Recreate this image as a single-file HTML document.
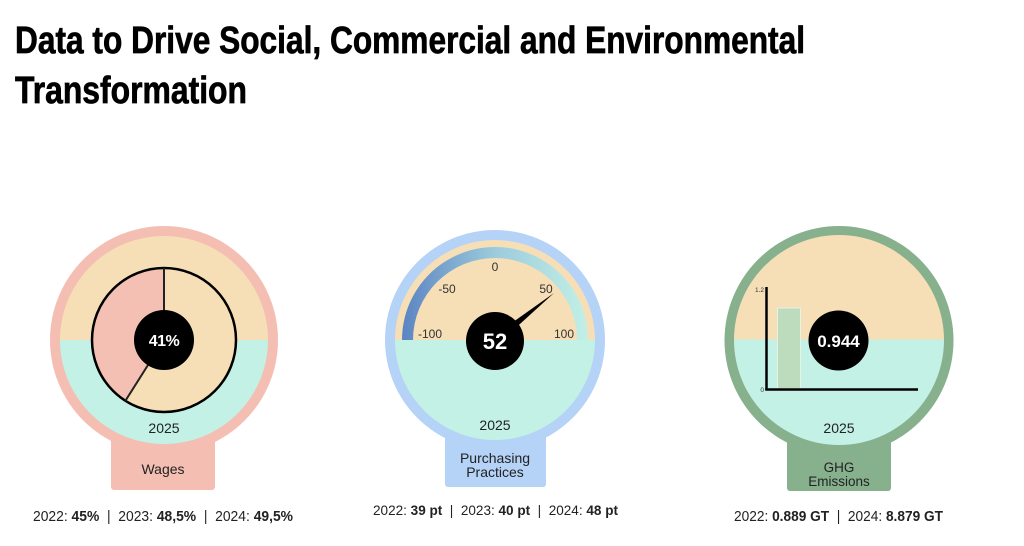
<!DOCTYPE html>
<html>
<head>
<meta charset="utf-8">
<style>
html,body{margin:0;padding:0;background:#fff;}
svg{display:block;}
text{font-family:"Liberation Sans",sans-serif;}
</style>
</head>
<body>
<svg width="1024" height="546" viewBox="0 0 1024 546" xmlns="http://www.w3.org/2000/svg">
<defs>
  <linearGradient id="g1" x1="402" y1="0" x2="588" y2="0" gradientUnits="userSpaceOnUse">
    <stop offset="0" stop-color="#5b84c2"/>
    <stop offset="0.5" stop-color="#9ccbdc"/>
    <stop offset="1" stop-color="#c2f0e6"/>
  </linearGradient>
  <clipPath id="c1"><circle cx="164" cy="340" r="104"/></clipPath>
  <clipPath id="c2"><circle cx="495" cy="340" r="100"/></clipPath>
  <clipPath id="c3"><circle cx="839" cy="340" r="105"/></clipPath>
</defs>

<!-- Title -->
<text x="15" y="53" font-size="38" font-weight="bold" fill="#000" stroke="#000" stroke-width="0.7" textLength="790" lengthAdjust="spacingAndGlyphs">Data to Drive Social, Commercial and Environmental</text>
<text x="15" y="103" font-size="38" font-weight="bold" fill="#000" stroke="#000" stroke-width="0.7" textLength="232" lengthAdjust="spacingAndGlyphs">Transformation</text>

<!-- ===== Wages ===== -->
<rect x="111" y="400" width="104" height="90" rx="3" fill="#f4bfb2"/>
<circle cx="164" cy="340" r="114" fill="#f4bfb2"/>
<g clip-path="url(#c1)">
  <rect x="50" y="230" width="230" height="110" fill="#f6dfb6"/>
  <rect x="50" y="340" width="230" height="120" fill="#c3f1e6"/>
</g>
<circle cx="164" cy="340" r="72" fill="#f6dfb6"/>
<path d="M164,268 A72,72 0 0 0 125.4,400.8 L164,340 Z" fill="#f4c0b3"/>
<circle cx="164" cy="340" r="72" fill="none" stroke="#000" stroke-width="2.5"/>
<line x1="164" y1="268" x2="164" y2="312" stroke="#222" stroke-width="2"/>
<line x1="125.4" y1="400.8" x2="148" y2="365" stroke="#222" stroke-width="2"/>
<circle cx="164" cy="340" r="30" fill="#000"/>
<text x="164" y="346" font-size="16" font-weight="bold" fill="#fff" text-anchor="middle" letter-spacing="-0.5">41%</text>
<text x="164" y="433" font-size="14" fill="#222" text-anchor="middle">2025</text>
<text x="163" y="474" font-size="14" fill="#222" text-anchor="middle">Wages</text>
<text x="33" y="521" font-size="14.5" fill="#222" textLength="260" lengthAdjust="spacingAndGlyphs" xml:space="preserve">2022: <tspan font-weight="bold">45%</tspan>  |  2023: <tspan font-weight="bold">48,5%</tspan>  |  2024: <tspan font-weight="bold">49,5%</tspan></text>

<!-- ===== Purchasing Practices ===== -->
<rect x="445" y="400" width="101" height="87" rx="3" fill="#b5d2f7"/>
<circle cx="495" cy="340" r="110" fill="#b5d2f7"/>
<g clip-path="url(#c2)">
  <rect x="390" y="235" width="210" height="105" fill="#f6dfb6"/>
  <rect x="390" y="340" width="210" height="110" fill="#c3f1e6"/>
</g>
<path d="M402,340 A93,93 0 0 1 588,340 L577,340 A82,82 0 0 0 413,340 Z" fill="url(#g1)"/>
<g font-size="12" fill="#333" text-anchor="middle">
  <text x="495" y="271">0</text>
  <text x="447" y="293">-50</text>
  <text x="546" y="293">50</text>
  <text x="430" y="338">-100</text>
  <text x="564" y="338">100</text>
</g>
<polygon points="554,293 498,344 492,337" fill="#000"/>
<circle cx="495" cy="341" r="29" fill="#000"/>
<text x="495" y="349" font-size="22" font-weight="bold" fill="#fff" text-anchor="middle">52</text>
<text x="495" y="430" font-size="14" fill="#222" text-anchor="middle">2025</text>
<text x="495" y="463" font-size="14" fill="#222" text-anchor="middle">Purchasing</text>
<text x="495" y="477" font-size="14" fill="#222" text-anchor="middle">Practices</text>
<text x="373" y="515" font-size="14" fill="#222" textLength="245" lengthAdjust="spacingAndGlyphs" xml:space="preserve">2022: <tspan font-weight="bold">39 pt</tspan>  |  2023: <tspan font-weight="bold">40 pt</tspan>  |  2024: <tspan font-weight="bold">48 pt</tspan></text>

<!-- ===== GHG Emissions ===== -->
<rect x="787" y="400" width="104" height="91" rx="3" fill="#87b08d"/>
<circle cx="839" cy="340.5" r="114.5" fill="#87b08d"/>
<g clip-path="url(#c3)">
  <rect x="730" y="230" width="220" height="109.5" fill="#f6dfb6"/>
  <rect x="730" y="339.5" width="220" height="120" fill="#c3f1e6"/>
</g>
<rect x="777.5" y="308" width="23" height="80.5" fill="#bddbbd" stroke="#e6f2e4" stroke-width="1"/>
<line x1="766.5" y1="287" x2="766.5" y2="390.5" stroke="#000" stroke-width="2.5"/>
<line x1="765.3" y1="389.5" x2="918" y2="389.5" stroke="#000" stroke-width="2.5"/>
<text x="764" y="292" font-size="6.5" fill="#333" text-anchor="end">1.2</text>
<text x="764" y="392" font-size="6.5" fill="#333" text-anchor="end">0</text>
<circle cx="838.5" cy="340.5" r="30" fill="#000"/>
<text x="838.5" y="347" font-size="17" font-weight="bold" fill="#fff" text-anchor="middle">0.944</text>
<text x="839" y="433" font-size="14" fill="#222" text-anchor="middle">2025</text>
<text x="839" y="472" font-size="13.5" fill="#222" text-anchor="middle">GHG</text>
<text x="839" y="486" font-size="13.5" fill="#222" text-anchor="middle">Emissions</text>
<text x="734" y="521" font-size="14.5" fill="#222" textLength="209" lengthAdjust="spacingAndGlyphs" xml:space="preserve">2022: <tspan font-weight="bold">0.889 GT</tspan>  |  2024: <tspan font-weight="bold">8.879 GT</tspan></text>
</svg>
</body>
</html>
